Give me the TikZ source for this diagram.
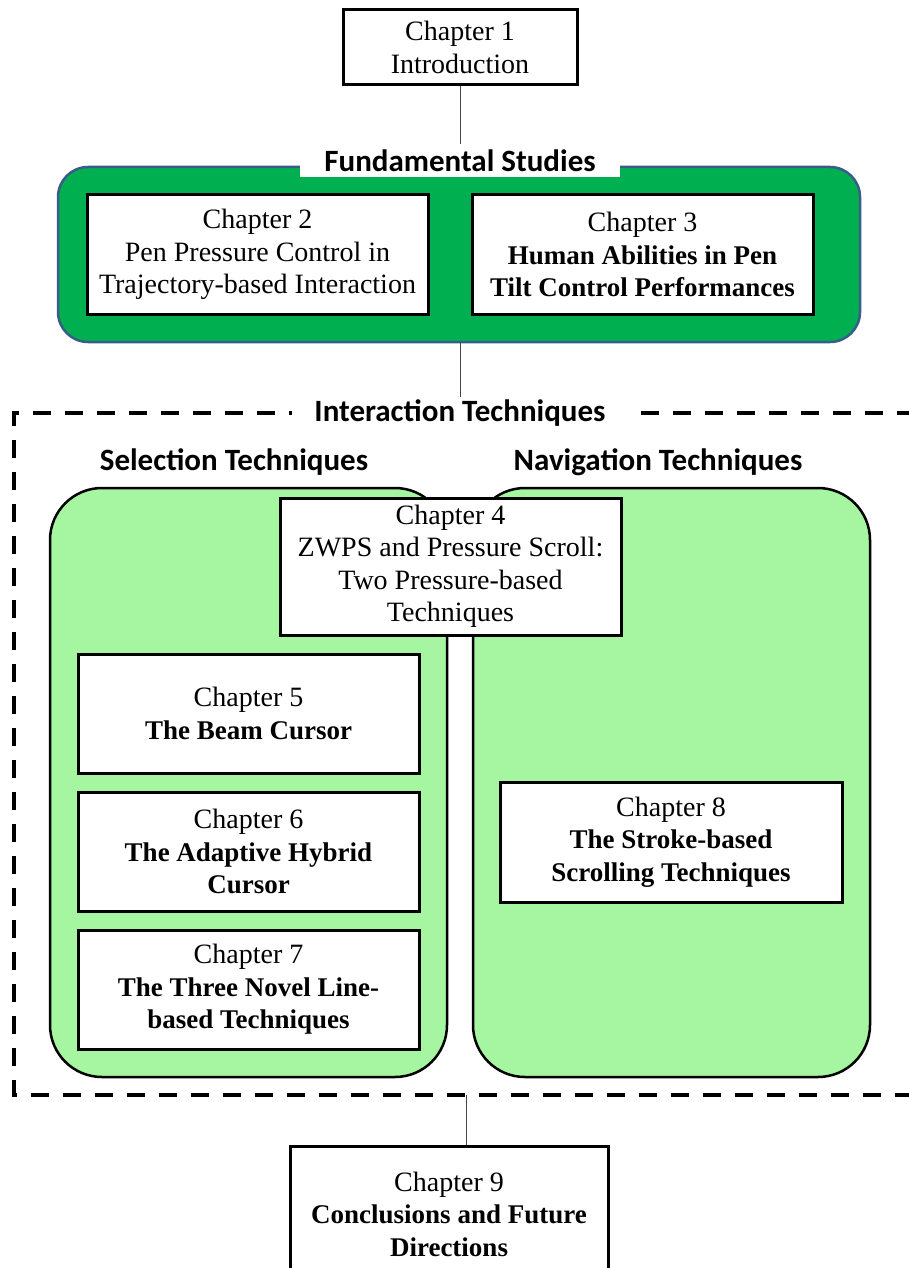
\documentclass[tikz,border=0pt]{standalone}
\usepackage{fontspec}
\setmainfont{Liberation Serif}
\newfontfamily\headfont{Carlito}
\newcommand\chapbold{\fontsize{27}{32.5}\selectfont\bfseries}

\definecolor{studygreen}{RGB}{0,176,80}
\definecolor{techgreen}{RGB}{166,245,160}
\definecolor{frameblue}{RGB}{56,93,138}
\definecolor{linkgray}{RGB}{70,70,70}

\begin{document}
\begin{tikzpicture}[x=1pt,y=-1pt,
  chapbox/.style={draw=black, line width=3pt, fill=white, align=center,
    inner sep=0pt, font=\fontsize{28}{32.5}\selectfont},
  headtext/.style={font=\headfont\bfseries\fontsize{31}{34}\selectfont},
  grouptitle/.style={headtext, inner sep=0pt},
  studyarea/.style={draw=frameblue, line width=2.5pt, fill=studygreen,
    rounded corners=30pt, inner sep=0pt},
  techarea/.style={draw=black, line width=2.5pt, fill=techgreen,
    rounded corners=52pt, inner sep=0pt},
  link/.style={draw=linkgray, line width=1pt},
  frame/.style={draw=black, line width=4pt, dash pattern=on 18pt off 14pt}
]
\useasboundingbox (0,0) rectangle (908,1268);

% chapter 1
\node[chapbox, minimum width=234pt, minimum height=75pt] (ch1) at (460,47.5)
  {Chapter 1\\Introduction};

% fundamental studies
\node[studyarea, minimum width=802pt, minimum height=175pt] (fund) at (459,254.5) {};
\node[headtext, fill=white, inner xsep=24pt, inner ysep=3pt, minimum height=33pt]
  (fundlbl) at (460,160.5) {Fundamental Studies};
\node[chapbox, minimum width=341pt, minimum height=119pt] (ch2) at (257.5,254.5)
  {Chapter 2\\Pen Pressure Control in\\Trajectory-based Interaction};
\node[chapbox, minimum width=341pt, minimum height=119pt] (ch3) at (642.5,254.5)
  {Chapter 3\\\chapbold Human Abilities in Pen\\\chapbold Tilt Control Performances};
\draw[link] (ch1.south) -- (fundlbl.north);

% interaction techniques frame
\draw[frame] (915,413) -- (14,413) -- (14,1095) -- (915,1095);
\node[headtext, fill=white, inner xsep=22pt, inner ysep=2pt]
  (techlbl) at (460,413) {Interaction Techniques};
\coordinate (fundlow) at (460,342);
\draw[link] (fundlow) -- (techlbl.north);

\node[grouptitle] (sellbl) at (234,462) {Selection Techniques};
\node[grouptitle] (navlbl) at (658,462) {Navigation Techniques};

\node[techarea, minimum width=397pt, minimum height=589pt] (selarea) at (248.5,782.5) {};
\node[techarea, minimum width=397pt, minimum height=589pt] (navarea) at (671.5,782.5) {};

\node[chapbox, minimum width=341pt, minimum height=137pt] (ch4) at (450.5,566.5)
  {Chapter 4\\ZWPS and Pressure Scroll:\\Two Pressure-based\\Techniques};

\node[chapbox, minimum width=341pt, minimum height=119pt] (ch5) at (248.5,713.5)
  {Chapter 5\\\chapbold The Beam Cursor};
\node[chapbox, minimum width=341pt, minimum height=119pt] (ch6) at (248.5,851.5)
  {Chapter 6\\\chapbold The Adaptive Hybrid\\\chapbold Cursor};
\node[chapbox, minimum width=341pt, minimum height=119pt] (ch7) at (248.5,989.5)
  {Chapter 7\\\chapbold The Three Novel Line-\\\chapbold based Techniques};
\node[chapbox, minimum width=342pt, minimum height=120pt] (ch8) at (671,842)
  {Chapter 8\\\chapbold The Stroke-based\\\chapbold Scrolling Techniques};

% chapter 9
\node[chapbox, minimum width=318pt, minimum height=136pt] (ch9) at (449,1214)
  {Chapter 9\\\chapbold Conclusions and Future\\\chapbold Directions};
\coordinate (framelow) at (466,1095);
\draw[link] (framelow) -- (framelow |- ch9.north);
\end{tikzpicture}
\end{document}
